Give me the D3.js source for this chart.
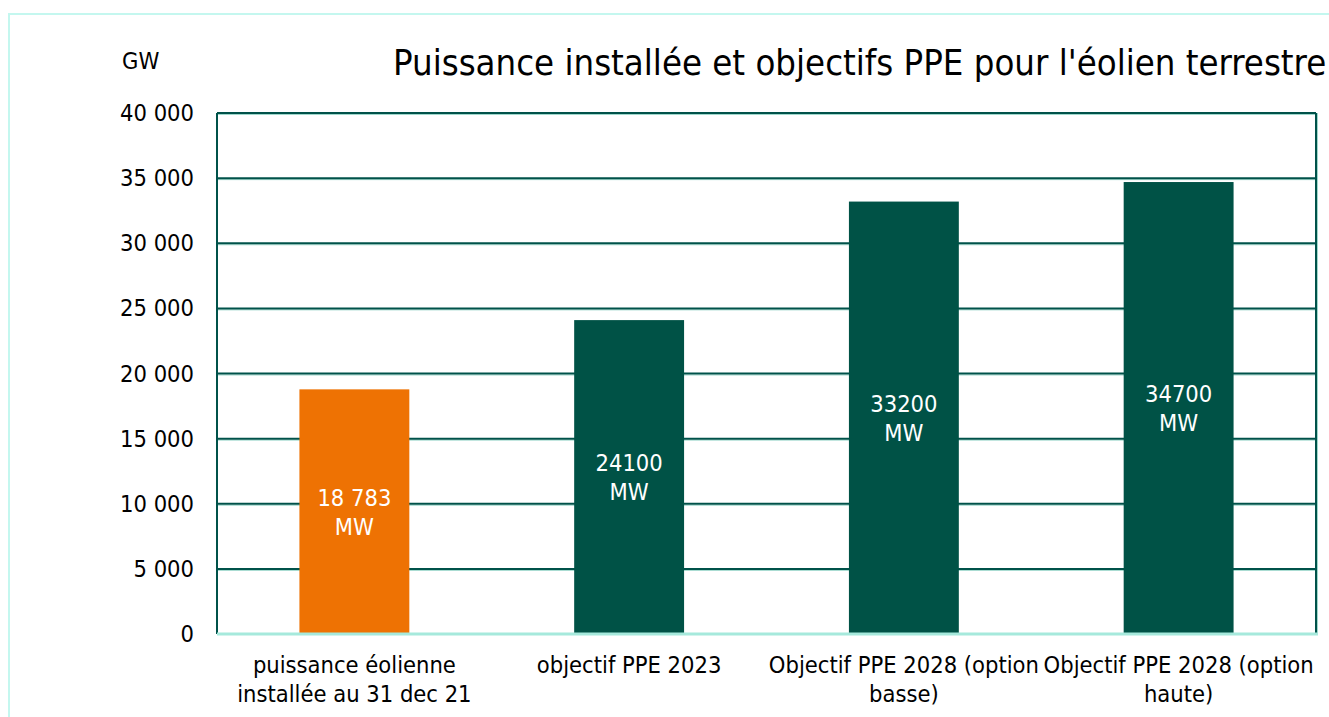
<!DOCTYPE html>
<html>
<head>
<meta charset="utf-8">
<script src="https://cdn.jsdelivr.net/npm/d3@7"></script>
<style>
  body { margin: 0; background: #fff; }
  svg { display: block; font-family: "DejaVu Sans Condensed", "DejaVu Sans", sans-serif; }
</style>
</head>
<body>
<svg width="1329" height="717"></svg>
<script>
const categories = [
    ['puissance éolienne', 'installée au 31 dec 21'],
    ['objectif PPE 2023'],
    ['Objectif PPE 2028 (option', 'basse)'],
    ['Objectif PPE 2028 (option', 'haute)']
];
const values = [18783, 24100, 33200, 34700];
const valueLabels = ['18 783', '24100', '33200', '34700'];
const barColors = ['#ee7203', '#005246', '#005246', '#005246'];
const yTicks = [0, 5000, 10000, 15000, 20000, 25000, 30000, 35000, 40000];

const svg = d3.select('svg');
const plotLeft = 217, plotTop = 113, plotRight = 1316, plotBottom = 634;
const fontSize = 23.5;

// outer frame
svg.append('rect')
    .attr('x', 9).attr('y', 14)
    .attr('width', 1400).attr('height', 800)
    .attr('fill', 'none')
    .attr('stroke', '#c4f7ef')
    .attr('stroke-width', 2);

const x = d3.scaleBand()
    .domain(d3.range(categories.length))
    .range([plotLeft, plotRight])
    .paddingInner(0.6)
    .paddingOuter(0.3);

const y = d3.scaleLinear()
    .domain([0, 40000])
    .range([plotBottom, plotTop]);

const fmt = d => d3.format(',')(d).replace(/,/g, ' ');

// gridlines
const grid = svg.append('g');
grid.selectAll('.shadow')
    .data(yTicks.filter(d => d > 0))
    .enter().append('line')
    .attr('x1', plotLeft).attr('x2', plotRight)
    .attr('y1', d => y(d) + 1.5).attr('y2', d => y(d) + 1.5)
    .attr('stroke', '#9fd8cc').attr('stroke-width', 1);
grid.selectAll('.g')
    .data(yTicks.filter(d => d > 0))
    .enter().append('line')
    .attr('x1', plotLeft).attr('x2', plotRight)
    .attr('y1', d => y(d)).attr('y2', d => y(d))
    .attr('stroke', '#00524a').attr('stroke-width', 2);

// plot frame (left and right)
svg.append('line')
    .attr('x1', plotLeft).attr('x2', plotLeft)
    .attr('y1', plotTop).attr('y2', plotBottom)
    .attr('stroke', '#00524a').attr('stroke-width', 2);
svg.append('line')
    .attr('x1', plotRight).attr('x2', plotRight)
    .attr('y1', plotTop).attr('y2', plotBottom)
    .attr('stroke', '#00524a').attr('stroke-width', 2);
svg.append('line')
    .attr('x1', plotRight + 1.5).attr('x2', plotRight + 1.5)
    .attr('y1', plotTop).attr('y2', plotBottom)
    .attr('stroke', '#9fd8cc').attr('stroke-width', 1);

// bars
svg.selectAll('.bar')
    .data(values)
    .enter().append('rect')
    .attr('x', (d, i) => x(i))
    .attr('width', x.bandwidth())
    .attr('y', d => y(d))
    .attr('height', d => y(0) - y(d))
    .attr('fill', (d, i) => barColors[i]);

// zero axis
svg.append('line')
    .attr('x1', plotLeft).attr('x2', plotRight + 2)
    .attr('y1', y(0)).attr('y2', y(0))
    .attr('stroke', '#a6e9dc').attr('stroke-width', 3);

// value labels
const vl = svg.selectAll('.vl')
    .data(values)
    .enter().append('text')
    .attr('text-anchor', 'middle')
    .attr('fill', '#fff')
    .attr('font-size', fontSize)
    .attr('transform', (d, i) => `translate(${x(i) + x.bandwidth() / 2},${(y(d) + y(0)) / 2})`);
vl.append('tspan').attr('x', 0).attr('y', -6).text((d, i) => valueLabels[i]);
vl.append('tspan').attr('x', 0).attr('y', 23).text('MW');

// y axis labels
const yAxis = svg.append('g')
    .attr('transform', `translate(${plotLeft - 23},0)`)
    .call(d3.axisLeft(y).tickValues(yTicks).tickFormat(fmt).tickSize(0).tickPadding(0));
yAxis.select('.domain').remove();
yAxis.selectAll('text')
    .attr('font-family', '"DejaVu Sans Condensed", "DejaVu Sans", sans-serif')
    .attr('font-size', fontSize)
    .attr('fill', '#000');

// category labels
const cl = svg.selectAll('.cl')
    .data(categories)
    .enter().append('text')
    .attr('text-anchor', 'middle')
    .attr('font-size', fontSize)
    .attr('fill', '#000')
    .attr('transform', (d, i) => `translate(${x(i) + x.bandwidth() / 2},0)`);
cl.selectAll('tspan')
    .data(d => d)
    .enter().append('tspan')
    .attr('x', 0)
    .attr('y', (d, j) => 673 + j * 29)
    .text(d => d);

// unit
svg.append('text')
    .attr('x', 122).attr('y', 69)
    .attr('font-size', fontSize)
    .text('GW');

// title
svg.append('text')
    .attr('x', 393).attr('y', 75)
    .attr('font-size', 36.2)
    .text("Puissance installée et objectifs PPE pour l'éolien terrestre");
</script>
</body>
</html>
